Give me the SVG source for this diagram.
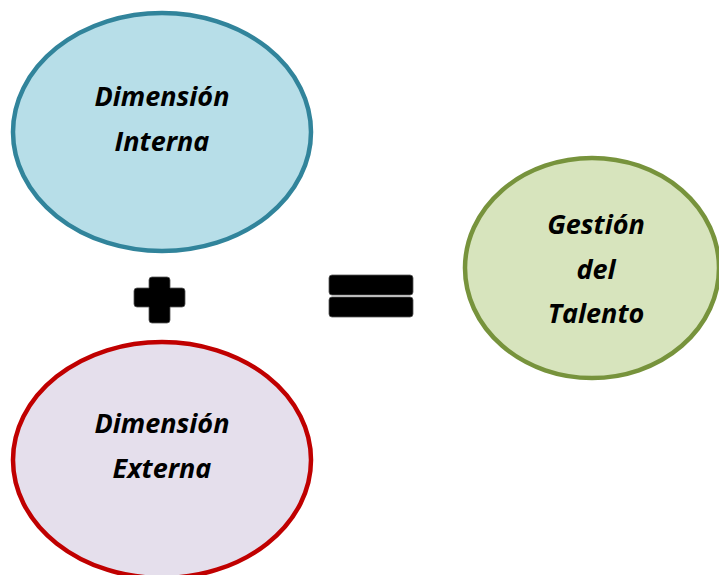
<svg xmlns="http://www.w3.org/2000/svg" width="719" height="575" viewBox="0 0 719 575">
<style>
.lbl{font-family:"Open Sans",Lato,"Liberation Sans",sans-serif;font-weight:bold;font-style:italic;font-size:27px;fill:#000;text-anchor:middle}
.sym{fill:#000;stroke:#555;stroke-width:0.8}
</style>
<rect width="719" height="575" fill="#fff"/>
<g id="interna">
<ellipse cx="162" cy="132" rx="149" ry="119" fill="#B7DEE8" stroke="#31849B" stroke-width="4.5"/>
<text class="lbl" x="162" y="106">Dimensión</text>
<text class="lbl" x="162" y="151">Interna</text>
</g>
<g id="externa">
<ellipse cx="162" cy="460" rx="149" ry="118" fill="#E5DFEC" stroke="#C00000" stroke-width="4.5"/>
<text class="lbl" x="162" y="433">Dimensión</text>
<text class="lbl" x="162" y="478">Externa</text>
</g>
<g id="gestion">
<ellipse cx="592" cy="268" rx="127" ry="110" fill="#D7E4BD" stroke="#77933C" stroke-width="4.5"/>
<text class="lbl" x="596" y="234">Gestión</text>
<text class="lbl" x="596" y="279">del</text>
<text class="lbl" x="596" y="323">Talento</text>
</g>
<g id="connectors">
<path class="sym" d="M152,277 h15 a3,3 0 0 1 3,3 v8 h12 a3,3 0 0 1 3,3 v13 a3,3 0 0 1 -3,3 h-12 v13 a3,3 0 0 1 -3,3 h-15 a3,3 0 0 1 -3,-3 v-13 h-12 a3,3 0 0 1 -3,-3 v-13 a3,3 0 0 1 3,-3 h12 v-8 a3,3 0 0 1 3,-3 z"/>
<rect class="sym" x="329" y="275" width="84" height="20" rx="3"/>
<rect class="sym" x="329" y="297" width="84" height="20" rx="3"/>
</g>
</svg>
